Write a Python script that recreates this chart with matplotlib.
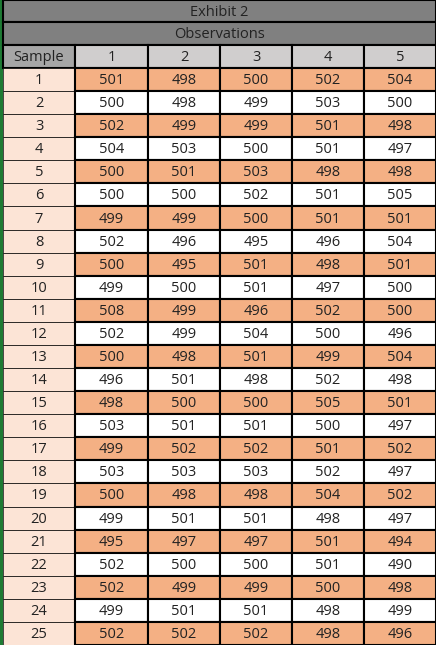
import matplotlib
matplotlib.use("Agg")
import matplotlib.pyplot as plt
from matplotlib.patches import Rectangle

title = "Exhibit 2"
subtitle = "Observations"
headers = ["Sample", "1", "2", "3", "4", "5"]
samples = list(range(1, 26))
obs = [
    [501, 498, 500, 502, 504],
    [500, 498, 499, 503, 500],
    [502, 499, 499, 501, 498],
    [504, 503, 500, 501, 497],
    [500, 501, 503, 498, 498],
    [500, 500, 502, 501, 505],
    [499, 499, 500, 501, 501],
    [502, 496, 495, 496, 504],
    [500, 495, 501, 498, 501],
    [499, 500, 501, 497, 500],
    [508, 499, 496, 502, 500],
    [502, 499, 504, 500, 496],
    [500, 498, 501, 499, 504],
    [496, 501, 498, 502, 498],
    [498, 500, 500, 505, 501],
    [503, 501, 501, 500, 497],
    [499, 502, 502, 501, 502],
    [503, 503, 503, 502, 497],
    [500, 498, 498, 504, 502],
    [499, 501, 501, 498, 497],
    [495, 497, 497, 501, 494],
    [502, 500, 500, 501, 490],
    [502, 499, 499, 500, 498],
    [499, 501, 501, 498, 499],
    [502, 502, 502, 498, 496],
]

W, H = 436, 645
fig = plt.figure(figsize=(W / 100, H / 100), dpi=100)
ax = fig.add_axes([0, 0, 1, 1])
ax.set_xlim(0, W)
ax.set_ylim(H, 0)
ax.axis("off")
plt.rcParams["font.family"] = ["Open Sans", "DejaVu Sans"]

x0 = 3
col_edges = [x0, 75, 148, 220, 292, 364, 436]
row_h = (H - 68) / 25
fs = 10.5

def cell(x1, x2, y1, y2, text, fc, lw=1.5):
    ax.add_patch(Rectangle((x1, y1), x2 - x1, y2 - y1, facecolor=fc,
                           edgecolor="black", linewidth=lw))
    ax.text((x1 + x2) / 2, (y1 + y2) / 2 + 1, text, ha="center", va="center",
            fontsize=fs, color="#222222")

ax.add_patch(Rectangle((0, 0), 3, H, facecolor="#1e7b34", edgecolor="none"))
cell(x0, W, 0, 22, title, "#808080")
cell(x0, W, 22, 45, subtitle, "#808080")
cell(col_edges[0], col_edges[1], 45, 68, headers[0], "#a6a6a6")
for j in range(1, 6):
    cell(col_edges[j], col_edges[j + 1], 45, 68, headers[j], "#d0cece")

for i, s in enumerate(samples):
    y1 = 68 + i * row_h
    y2 = y1 + row_h
    cell(col_edges[0], col_edges[1], y1, y2, str(s), "#fce4d6", lw=0.5)
    fc = "#f4b084" if i % 2 == 0 else "white"
    for j in range(5):
        cell(col_edges[j + 1], col_edges[j + 2], y1, y2, str(obs[i][j]), fc)

fig.savefig("out.png", dpi=100)
